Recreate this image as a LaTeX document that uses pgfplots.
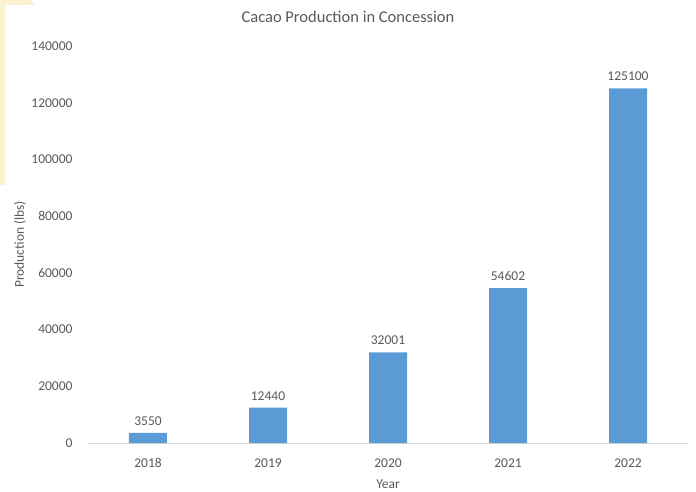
\documentclass[border=0pt]{standalone}
\usepackage{pgfplots}
\pgfplotsset{compat=1.18}
\usepackage{fontspec}
\setmainfont{Carlito}
\definecolor{barblue}{HTML}{5B9BD5}
\definecolor{txt}{HTML}{595959}
\definecolor{axl}{HTML}{D9D9D9}
\definecolor{paley}{HTML}{FBF2D2}
\begin{document}
\begin{tikzpicture}[x=1pt,y=1pt]
\begin{axis}[
  at={(0pt,0pt)}, anchor=south west,
  scale only axis,
  width=600pt, height=397pt,
  xmin=-0.5, xmax=4.5,
  ymin=0, ymax=140000,
  xtick={0,1,2,3,4},
  xticklabels={2018,2019,2020,2021,2022},
  ytick={0,20000,40000,60000,80000,100000,120000,140000},
  scaled y ticks=false,
  /pgf/number format/assume math mode=true,
  yticklabel style={/pgf/number format/fixed, /pgf/number format/1000 sep={}, font=\fontsize{13.5}{16}\selectfont, text=txt},
  xticklabel style={font=\fontsize{13.5}{16}\selectfont, text=txt},
  major tick length=0pt,
  axis x line*=bottom, axis y line*=left,
  y axis line style={draw=none},
  x axis line style={draw=axl, line width=1pt},
  xticklabel shift=12pt,
  yticklabel shift=12pt,
  title={Cacao Production in Concession},
  title style={font=\fontsize{16.5}{19}\selectfont, text=txt, at={(axis description cs:0.5,1)}, anchor=center, yshift=23pt, xshift=-40pt},
  xlabel={Year},
  xlabel style={font=\fontsize{13.5}{16}\selectfont, text=txt, at={(axis description cs:0.5,0)}, anchor=center, yshift=-41pt},
  ylabel={Production (lbs)},
  ylabel style={font=\fontsize{13.5}{16}\selectfont, text=txt, at={(axis description cs:0,0.5)}, anchor=center, yshift=68pt},
  ybar, bar width=38pt,
  nodes near coords,
  nodes near coords style={font=\fontsize{13.5}{16}\selectfont, text=txt, /pgf/number format/fixed, /pgf/number format/1000 sep={}, yshift=4pt},
  clip=false,
]
\addplot[fill=barblue, draw=none] coordinates {(0,3550) (1,12440) (2,32001) (3,54602) (4,125100)};
\end{axis}
\fill[paley] (-88pt,258pt) rectangle (-83pt,443pt);
\fill[paley] (-88pt,443pt) -- (-58pt,443pt) -- (-53pt,438pt) -- (-88pt,438pt) -- cycle;
\pgfresetboundingbox
\path[use as bounding box] (-88pt,-48pt) rectangle (608pt,443pt);
\end{tikzpicture}
\end{document}
